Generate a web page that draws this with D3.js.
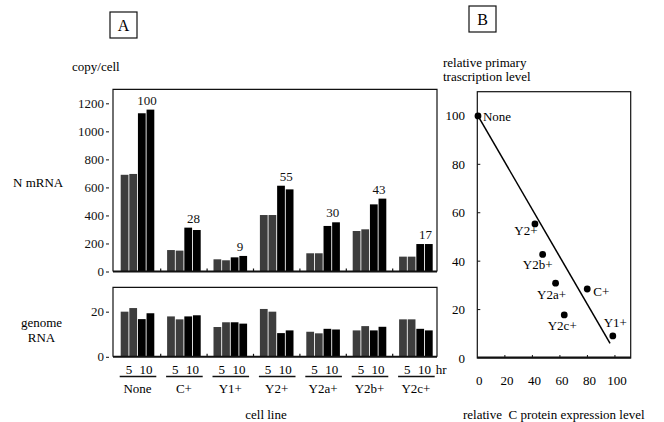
<!DOCTYPE html>
<html>
<head>
<meta charset="utf-8">
<script src="https://cdn.jsdelivr.net/npm/d3@7"></script>
<style>
body { margin: 0; background: #fff; }
svg text { font-family: "Liberation Serif", "DejaVu Serif", "Times New Roman", serif; }
</style>
</head>
<body>
<div id="chart"></div>
<script>
"use strict"
// cell lines, N mRNA copy/cell (5hr, 5hr, 10hr, 10hr)
var groups = ["None","C+","Y1+","Y2+","Y2a+","Y2b+","Y2c+"];
var nmrna = [
	[690,696,1129,1155],
	[153,149,313,296],
	[87,80,101,111],
	[403,403,612,586],
	[130,130,325,351],
	[289,301,479,520],
	[106,106,196,196]];
var genome = [
	[20,21.6,16.7,19.3],
	[17.9,16.6,17.9,18.4],
	[13.2,15.3,15.3,14.7],
	[21.2,20,10.5,11.7],
	[11.1,10.4,12.4,12.1],
	[11.7,13.6,11.7,13.3],
	[16.6,16.6,12.4,11.7]];
var pct = [100,28,9,55,30,43,17];
var hours = ["5","10"];
var mrnaTicks = [0,200,400,600,800,1000,1200];
var genomeTicks = [0,20];

// panel B
var bNames = ["None","C+","Y1+","Y2+","Y2a+","Y2b+","Y2c+"];
var cProtein = [-1,78.4,97,40.4,55.4,46,61.7];
var primary = [100,28.5,9.1,55.4,30.9,42.8,17.8];
var fit = [[-1,100],[95,6]];
var bTicks = [0,20,40,60,80,100];

var width = 664, height = 422;
var serif = "'Liberation Serif', 'DejaVu Serif', serif";
var svg = d3.select("#chart").append("svg")
	.attr("width",width)
	.attr("height",height)
	.attr("font-family",serif)
	.style("background","#fff");

var ink = "#111", grey = "#3d3d3d";

// ---- panel A ----
var fx = {l:113, r:437};
var x = d3.scaleBand().domain(groups).range([114.3,439.1]);
var xi = d3.scaleBand().domain([0,1,2,3]).range([6.4,40]).paddingInner(0.1);
var yTop = d3.scaleLinear().domain([0,1300]).range([271.5,89.3]);
var yBot = d3.scaleLinear().domain([0,30.8]).range([356.8,287.3]);

function panel(yscale, data, ticks) {
	var g = svg.append("g");
	var y0 = yscale(0), y1 = yscale.range()[1];
	groups.forEach(function(c,i){
		g.selectAll(null).data(data[i]).enter().append("rect")
			.attr("x",function(d,j){return x(c)+xi(j);})
			.attr("y",function(d){return yscale(d);})
			.attr("width",xi.bandwidth())
			.attr("height",function(d){return y0-yscale(d);})
			.style("fill",function(d,j){return j<2?grey:"#000";});
	});
	g.append("path")
		.attr("d","M"+fx.l+","+y0+"V"+y1+"H"+fx.r+"V"+y0)
		.style("fill","none").style("stroke",ink).style("stroke-width",1.2);
	g.append("line")
		.attr("x1",fx.l).attr("x2",fx.r).attr("y1",y0).attr("y2",y0)
		.style("stroke",ink).style("stroke-width",2);
	// small ticks between groups
	g.selectAll(null).data(groups.slice(1)).enter().append("line")
		.attr("x1",function(d){return x(d);}).attr("x2",function(d){return x(d);})
		.attr("y1",y0).attr("y2",y0-3)
		.style("stroke",ink).style("stroke-width",1.2);
	var ax = svg.append("g")
		.attr("transform","translate(109,0)")
		.call(d3.axisLeft(yscale).tickValues(ticks).tickFormat(d3.format("d")).tickSize(3).tickPadding(2));
	ax.attr("font-family",serif).attr("font-size",13);
	ax.select(".domain").remove();
	ax.selectAll("line").style("stroke",ink);
	ax.selectAll("text").style("fill",ink);
}
panel(yTop,nmrna,mrnaTicks);
panel(yBot,genome,genomeTicks);

// percent labels over 10hr bars
svg.selectAll(null).data(groups).enter().append("text")
	.attr("x",function(c){return x(c)+(xi(2)+xi(3)+xi.bandwidth())/2+1;})
	.attr("y",function(c,i){return yTop(d3.max(nmrna[i]))-5;})
	.attr("text-anchor","middle")
	.style("font-size","13px").style("fill",ink)
	.text(function(c,i){return pct[i];});

// hour labels, underline, names
groups.forEach(function(c,i){
	var g0 = x(c)+xi(0), g1 = x(c)+xi(3)+xi.bandwidth();
	svg.append("text").attr("x",(x(c)+xi(0)+x(c)+xi(1)+xi.bandwidth())/2).attr("y",373.5)
		.attr("text-anchor","middle").style("font-size","13px").text(hours[0]);
	svg.append("text").attr("x",(x(c)+xi(2)+x(c)+xi(3)+xi.bandwidth())/2).attr("y",373.5)
		.attr("text-anchor","middle").style("font-size","13px").text(hours[1]);
	svg.append("line").attr("x1",g0-1).attr("x2",g1+2).attr("y1",376.5).attr("y2",376.5)
		.style("stroke",ink).style("stroke-width",1.3);
	svg.append("text").attr("x",(g0+g1)/2).attr("y",392.5)
		.attr("text-anchor","middle").style("font-size","13px").text(c);
	if (i===groups.length-1) {
		svg.append("text").attr("x",g1+3).attr("y",373.5).style("font-size","13px").text("hr");
	}
});

svg.append("text").attr("x",266).attr("y",419).attr("text-anchor","middle").style("font-size","13px").text("cell line");
svg.append("text").attr("x",72).attr("y",71).style("font-size","13px").text("copy/cell");
svg.append("text").attr("x",13).attr("y",187).style("font-size","13px").text("N mRNA");
svg.append("text").attr("x",41.5).attr("y",327).attr("text-anchor","middle").style("font-size","13px").text("genome");
svg.append("text").attr("x",41.5).attr("y",342).attr("text-anchor","middle").style("font-size","13px").text("RNA");

// boxed letters
function boxLetter(x0,y0,s) {
	svg.append("rect").attr("x",x0).attr("y",y0).attr("width",27).attr("height",26)
		.style("fill","none").style("stroke",ink).style("stroke-width",1.2);
	svg.append("text").attr("x",x0+13.5).attr("y",y0+19).attr("text-anchor","middle")
		.style("font-size","16px").text(s);
}
boxLetter(110,12,"A");
boxLetter(469,6,"B");

// ---- panel B ----
var bx = d3.scaleLinear().domain([-1.5,110]).range([477.3,630.7]);
var by = d3.scaleLinear().domain([0,110]).range([358,91.7]);
var gb = svg.append("g");
gb.append("rect").attr("x",bx(-1.5)).attr("y",by(110))
	.attr("width",bx(110)-bx(-1.5)).attr("height",by(0)-by(110))
	.style("fill","none").style("stroke",ink).style("stroke-width",1.2);
gb.append("line").attr("x1",bx(-1.5)).attr("x2",bx(110)).attr("y1",by(0)-0.5).attr("y2",by(0)-0.5)
	.style("stroke",ink).style("stroke-width",2);
gb.selectAll(null).data(bTicks.slice(1)).enter().append("line")
	.attr("x1",bx.range()[0]).attr("x2",bx.range()[0]+3)
	.attr("y1",function(d){return by(d);}).attr("y2",function(d){return by(d);})
	.style("stroke",ink);
gb.selectAll(null).data(bTicks.slice(1)).enter().append("line")
	.attr("x1",function(d){return bx(d)-2;}).attr("x2",function(d){return bx(d)-2;})
	.attr("y1",by(0)).attr("y2",by(0)-3)
	.style("stroke",ink);
gb.selectAll(null).data(bTicks).enter().append("text")
	.attr("x",465).attr("y",function(d){return by(d)+4.5;})
	.attr("text-anchor","end").style("font-size","13px").text(function(d){return d;});
gb.selectAll(null).data(bTicks).enter().append("text")
	.attr("x",function(d){return bx(d);}).attr("y",384.5)
	.attr("text-anchor","middle").style("font-size","13px").text(function(d){return d;});

gb.append("path")
	.attr("d",d3.line().x(function(d){return bx(d[0]);}).y(function(d){return by(d[1]);})(fit))
	.style("fill","none").style("stroke","#000").style("stroke-width",1.5);
gb.selectAll(null).data(bNames).enter().append("circle")
	.attr("cx",function(d,i){return bx(cProtein[i]);})
	.attr("cy",function(d,i){return by(primary[i]);})
	.attr("r",3.4).style("fill","#000");

// label placement around each point
var place = {
	"None":{dx:5,dy:5,a:"start"},
	"C+":{dx:6,dy:7,a:"start"},
	"Y1+":{dx:2.5,dy:-9,a:"middle"},
	"Y2+":{dx:-9,dy:11.5,a:"middle"},
	"Y2a+":{dx:-4,dy:16,a:"middle"},
	"Y2b+":{dx:-5,dy:14.5,a:"middle"},
	"Y2c+":{dx:-2,dy:15.5,a:"middle"}};
gb.selectAll(null).data(bNames).enter().append("text")
	.attr("x",function(d,i){return bx(cProtein[i])+place[d].dx;})
	.attr("y",function(d,i){return by(primary[i])+place[d].dy;})
	.attr("text-anchor",function(d){return place[d].a;})
	.style("font-size","13px").text(function(d){return d;});

svg.append("text").attr("x",443).attr("y",67).style("font-size","13px").text("relative primary");
svg.append("text").attr("x",443).attr("y",81).style("font-size","13px").text("trascription level");
svg.append("text").attr("x",463).attr("y",419).style("font-size","13px").style("white-space","pre")
	.text("relative  C protein expression level");
</script>
</body>
</html>
